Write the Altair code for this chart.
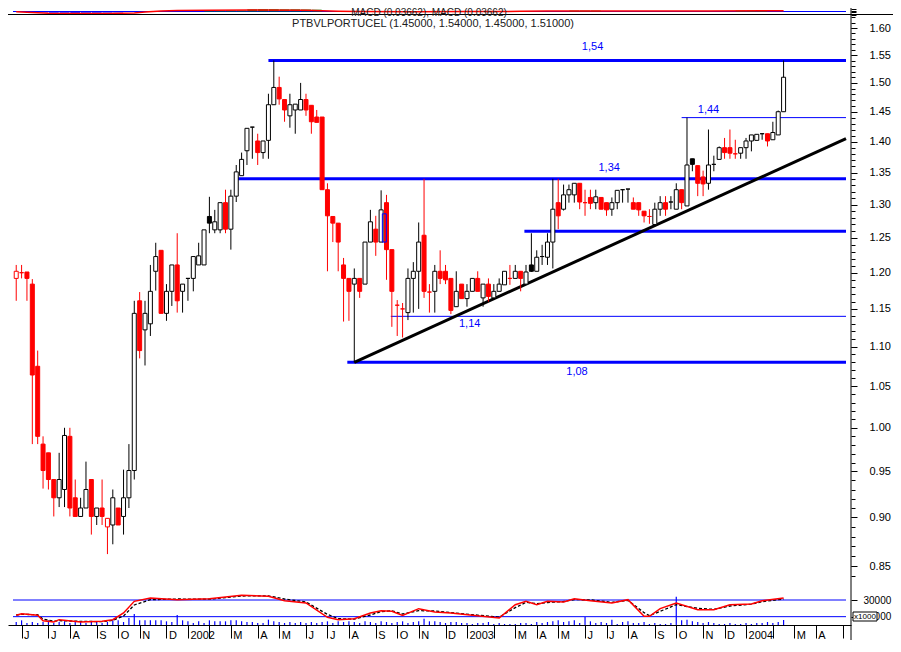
import math
import altair as alt
import pandas as pd

# ---------------- data (weekly candles, week ending Friday) ----------------
FIRST_WEEK = "2001-05-25"
PREV_CLOSE = 1.21  # close of the week before the first candle

opens = [
    1.192, 1.200, 1.201, 1.184, 1.075, 0.981, 0.971, 0.941, 0.921, 0.930, 0.990, 0.921,
    0.901, 0.910, 0.941, 0.901, 0.910, 0.890, 0.892, 0.910, 0.901, 0.921, 0.951, 1.161,
    1.122, 1.130, 1.202, 1.232, 1.144, 1.174, 1.211, 1.174, 1.192, 1.192, 1.211, 1.211,
    1.282, 1.262, 1.262, 1.303, 1.263, 1.313, 1.345, 1.385, 1.424, 1.401, 1.382, 1.402,
    1.462, 1.492, 1.471, 1.443, 1.453, 1.453, 1.471, 1.461, 1.441, 1.441, 1.323, 1.282,
    1.272, 1.211, 1.192, 1.184, 1.192, 1.184, 1.244, 1.263, 1.244, 1.303, 1.233, 1.155,
    1.150, 1.145, 1.192, 1.202, 1.254, 1.173, 1.174, 1.202, 1.202, 1.192, 1.153, 1.184,
    1.164, 1.174, 1.192, 1.165, 1.184, 1.165, 1.174, 1.183, 1.192, 1.192, 1.202, 1.184,
    1.211, 1.202, 1.223, 1.222, 1.244, 1.303, 1.293, 1.315, 1.315, 1.333, 1.303, 1.311,
    1.303, 1.311, 1.303, 1.293, 1.303, 1.323, 1.324, 1.303, 1.303, 1.290, 1.282, 1.270,
    1.293, 1.303, 1.304, 1.293, 1.323, 1.298, 1.372, 1.361, 1.343, 1.333, 1.363, 1.371,
    1.390, 1.390, 1.380, 1.381, 1.390, 1.401, 1.402, 1.413, 1.413, 1.403, 1.411, 1.450,
]
highs = [
    1.211, 1.211, 1.201, 1.191, 1.095, 0.990, 0.971, 0.941, 0.971, 1.000, 1.000, 0.941,
    0.921, 0.961, 0.941, 0.910, 0.941, 0.899, 0.930, 0.910, 0.952, 0.981, 1.161, 1.173,
    1.161, 1.211, 1.243, 1.232, 1.184, 1.211, 1.257, 1.184, 1.192, 1.223, 1.243, 1.262,
    1.312, 1.292, 1.303, 1.323, 1.323, 1.362, 1.382, 1.422, 1.424, 1.413, 1.401, 1.481,
    1.540, 1.511, 1.471, 1.481, 1.463, 1.500, 1.481, 1.461, 1.453, 1.441, 1.333, 1.282,
    1.272, 1.221, 1.192, 1.206, 1.192, 1.244, 1.292, 1.283, 1.322, 1.315, 1.233, 1.162,
    1.158, 1.206, 1.215, 1.273, 1.340, 1.184, 1.211, 1.232, 1.211, 1.192, 1.202, 1.184,
    1.184, 1.192, 1.202, 1.184, 1.192, 1.184, 1.192, 1.202, 1.211, 1.211, 1.202, 1.211,
    1.257, 1.232, 1.240, 1.257, 1.340, 1.340, 1.331, 1.331, 1.333, 1.333, 1.323, 1.323,
    1.323, 1.311, 1.303, 1.311, 1.322, 1.323, 1.324, 1.311, 1.303, 1.290, 1.293, 1.303,
    1.313, 1.313, 1.313, 1.333, 1.323, 1.440, 1.372, 1.361, 1.353, 1.420, 1.377, 1.392,
    1.406, 1.420, 1.403, 1.390, 1.406, 1.411, 1.412, 1.413, 1.413, 1.433, 1.452, 1.540,
]
lows = [
    1.161, 1.192, 1.161, 0.981, 0.981, 0.931, 0.930, 0.901, 0.911, 0.911, 0.901, 0.901,
    0.901, 0.910, 0.882, 0.892, 0.892, 0.862, 0.872, 0.892, 0.882, 0.910, 0.941, 1.085,
    1.076, 1.114, 1.175, 1.144, 1.134, 1.154, 1.145, 1.145, 1.161, 1.174, 1.211, 1.211,
    1.257, 1.257, 1.257, 1.257, 1.233, 1.304, 1.345, 1.362, 1.372, 1.362, 1.372, 1.372,
    1.462, 1.462, 1.433, 1.423, 1.413, 1.453, 1.443, 1.413, 1.432, 1.323, 1.202, 1.244,
    1.202, 1.133, 1.134, 1.080, 1.165, 1.184, 1.244, 1.224, 1.244, 1.190, 1.126, 1.114,
    1.112, 1.135, 1.145, 1.150, 1.165, 1.145, 1.145, 1.184, 1.184, 1.143, 1.153, 1.164,
    1.153, 1.174, 1.174, 1.153, 1.160, 1.162, 1.174, 1.183, 1.183, 1.192, 1.174, 1.184,
    1.201, 1.202, 1.211, 1.211, 1.206, 1.263, 1.291, 1.303, 1.303, 1.293, 1.283, 1.293,
    1.293, 1.293, 1.283, 1.283, 1.293, 1.303, 1.303, 1.293, 1.283, 1.273, 1.271, 1.267,
    1.283, 1.283, 1.293, 1.293, 1.293, 1.298, 1.352, 1.313, 1.313, 1.323, 1.352, 1.371,
    1.372, 1.372, 1.372, 1.372, 1.372, 1.384, 1.402, 1.403, 1.392, 1.403, 1.411, 1.450,
]
closes = [
    1.202, 1.200, 1.192, 1.064, 0.990, 0.951, 0.941, 0.921, 0.941, 0.991, 0.910, 0.901,
    0.910, 0.930, 0.901, 0.910, 0.901, 0.899, 0.921, 0.892, 0.921, 0.951, 1.144, 1.095,
    1.144, 1.174, 1.223, 1.144, 1.174, 1.211, 1.161, 1.184, 1.192, 1.223, 1.224, 1.262,
    1.272, 1.274, 1.303, 1.263, 1.313, 1.351, 1.371, 1.422, 1.424, 1.382, 1.401, 1.462,
    1.492, 1.472, 1.453, 1.462, 1.463, 1.471, 1.453, 1.433, 1.432, 1.323, 1.283, 1.272,
    1.244, 1.192, 1.174, 1.192, 1.174, 1.244, 1.274, 1.244, 1.292, 1.233, 1.174, 1.155,
    1.150, 1.192, 1.202, 1.244, 1.174, 1.173, 1.202, 1.192, 1.190, 1.148, 1.174, 1.164,
    1.174, 1.192, 1.174, 1.184, 1.167, 1.174, 1.184, 1.202, 1.192, 1.202, 1.192, 1.201,
    1.202, 1.222, 1.223, 1.244, 1.293, 1.283, 1.315, 1.323, 1.333, 1.304, 1.303, 1.302,
    1.312, 1.293, 1.292, 1.303, 1.322, 1.323, 1.324, 1.293, 1.292, 1.283, 1.282, 1.293,
    1.303, 1.293, 1.304, 1.323, 1.303, 1.362, 1.363, 1.333, 1.332, 1.362, 1.363, 1.390,
    1.382, 1.381, 1.380, 1.390, 1.401, 1.411, 1.412, 1.413, 1.401, 1.415, 1.450, 1.510,
]
# volume, thousands of shares
volume_k = [
    3.6, 5.6, 2.4, 3.6, 2.4, 3.6, 5.6, 2.4, 3.6, 4.4, 2.4, 4.4,
    3.6, 2.4, 3.6, 4.4, 2.4, 3.6, 5.6, 5.6, 3.6, 8.4, 13.2, 5.6,
    5.6, 5.6, 5.6, 5.6, 4.4, 3.6, 12.0, 5.6, 4.4, 2.4, 4.4, 2.4,
    5.6, 4.4, 4.4, 4.4, 5.6, 5.6, 4.4, 3.6, 3.6, 2.4, 2.4, 6.4,
    4.4, 3.6, 2.4, 3.6, 2.4, 3.6, 2.4, 3.6, 2.4, 3.6, 4.4, 2.4,
    4.4, 3.6, 4.4, 3.6, 2.4, 4.4, 3.6, 2.4, 4.4, 3.6, 2.4, 3.6,
    4.4, 2.4, 3.6, 4.4, 7.6, 4.4, 4.4, 3.6, 2.4, 3.6, 3.6, 2.4,
    2.4, 1.2, 2.4, 2.4, 3.6, 1.2, 2.4, 1.2, 1.2, 1.2, 2.4, 2.4,
    1.2, 3.6, 2.4, 3.6, 4.4, 5.6, 3.6, 4.4, 5.6, 2.4, 9.6, 4.4,
    2.4, 3.6, 2.4, 6.4, 1.2, 3.6, 4.4, 2.4, 2.4, 3.6, 1.2, 2.4,
    1.2, 1.2, 2.4, 34.0, 5.6, 6.4, 4.4, 3.6, 2.4, 3.6, 2.4, 1.2,
    1.2, 2.4, 1.2, 1.2, 2.4, 1.2, 2.4, 2.4, 3.6, 2.4, 3.6, 6.0,
]

# lower panel oscillator (thousands), read at these week numbers
osc_weeks = [1, 2, 5, 6, 8, 9, 13, 17, 19, 21, 23, 26, 31, 37, 43, 48, 51, 55, 59, 61, 64,
             67, 69, 71, 73, 76, 79, 82, 86, 91, 94, 96, 98, 100, 103, 105, 108, 112, 115,
             118, 119, 121, 124, 128, 131, 134, 138, 140, 144]
osc_red = [11.6, 13.6, 11.6, 5.2, 3.6, 6.4, 3.6, 4.4, 6.4, 14.4, 28.4, 32.4, 30.4, 31.6,
           35.6, 34.4, 29.2, 26.4, 9.2, 6.4, 7.6, 14.4, 17.2, 16.4, 11.6, 19.6, 15.6, 14.4,
           11.6, 8.4, 24.4, 28.4, 24.4, 28.4, 27.6, 31.6, 29.2, 26.4, 30.4, 10.4, 10.4, 19.6,
           26.4, 18.4, 18.4, 24.4, 25.2, 29.2, 32.4]
osc_black = [12.0, 12.8, 12.4, 7.0, 4.6, 5.2, 4.4, 4.0, 5.6, 10.8, 24.0, 30.4, 31.2, 31.0,
             34.8, 35.0, 31.2, 27.6, 12.8, 7.6, 7.0, 12.0, 16.0, 17.0, 13.2, 17.2, 16.8, 15.0,
             12.4, 9.4, 20.8, 27.2, 25.6, 27.0, 28.2, 30.4, 30.2, 27.2, 29.6, 14.8, 11.2, 16.4,
             24.4, 20.0, 18.8, 22.8, 25.0, 28.0, 31.2]

# MACD strip (normalised)
macd_weeks = [1, 4, 7, 12, 18, 23, 25, 28, 31, 37, 45, 55, 61, 65, 75, 85, 95, 100, 110, 120, 130, 144]
macd_vals = [-0.1, -0.3, -0.6, -0.7, -0.65, -0.5, -0.2, 0.2, 0.35, 0.45, 0.5, 0.45, 0.1, 0.0,
             -0.05, 0.0, 0.05, 0.2, 0.2, 0.15, 0.2, 0.25]
hist_weeks = [6, 8, 10, 12, 14, 16, 18, 20, 37, 39, 41, 43, 45, 47, 49, 51, 53, 55, 57,
              105, 107, 109, 136, 138, 140]
hist_vals = [-0.3, -0.4, -0.4, -0.45, -0.4, -0.4, -0.35, -0.3, 0.3, 0.3, 0.35, 0.35, 0.7,
             0.75, 0.75, 0.7, 0.7, 0.65, 0.6, 0.3, 0.3, 0.3, 0.3, 0.3, 0.3]

# drawn support / resistance levels
level_values = [1.54, 1.44, 1.34, 1.26, 1.14, 1.08]
level_start_week = [48, 125, 41.8, 95.7, 70.8, 62.7]
level_thick = [True, False, True, True, False, True]
label_texts = ["1,54", "1,44", "1,34", "1,14", "1,08"]
label_levels = [1.54, 1.44, 1.34, 1.14, 1.08]
label_weeks = [108.4, 130, 111.5, 85.5, 105.5]
trend_start = (64, 1.08)
trend_end_price = 1.405
highlight = (69.6, 1.244, 1.286)  # blue outlined box

panel_levels_k = [30, 10]
TITLE_MACD = "MACD (0.03662), MACD (0.03662)"
TITLE_MAIN = "PTBVLPORTUCEL (1.45000, 1.54000, 1.45000, 1.51000)"

# ---------------- layout ----------------
FONT = "Liberation Sans"
W, H = 843, 617
PAD_R = 42
WEEK = 7 * 86400000
t0 = int(pd.Timestamp(FIRST_WEEK).value // 1_000_000)


def wk(n):
    return t0 + (n - 1) * WEEK


x_start, x_end = wk(0.4), wk(155.63)
N = len(closes)


def py(p):
    return 20 + 850.6 * math.log(1.6 / p)


P_LO, P_HI = 0.83, 1.63
pscale = alt.Scale(type="log", domain=[P_LO, P_HI], range=[py(P_LO), py(P_HI)], nice=False)
vscale = alt.Scale(domain=[0, 40], range=[H, H - 40 / 1.2], nice=False, zero=False)
mscale = alt.Scale(domain=[-1, 1], range=[6.5, 0.5], nice=False, zero=False)
xscale = alt.Scale(type="utc", domain=[x_start, x_end], nice=False)

# month ticks at the first weekly bar of each month
all_weeks = pd.date_range(FIRST_WEEK, periods=160, freq="7D")
tick_ms = []
for i in range(1, len(all_weeks)):
    if all_weeks[i].month != all_weeks[i - 1].month:
        v = int(all_weeks[i].value // 1_000_000)
        if v < x_end:
            tick_ms.append(v)
cut = int(pd.Timestamp("2004-05-01").value // 1_000_000)
label_expr = (
    "utcmonth(datum.value) == 0 ? utcFormat(datum.value, '%Y') : "
    f"((utcmonth(datum.value) == 1 || datum.value > {cut}) ? '' : "
    "substring(utcFormat(datum.value, '%b'), 0, 1))"
)
xaxis = alt.Axis(values=tick_ms, labelExpr=label_expr, tickSize=13, labelPadding=-9,
                 labelAlign="left", labelOffset=2, labelBaseline="top", domainColor="black",
                 tickColor="black", labelColor="black", labelFont=FONT, labelFontSize=11,
                 grid=False, title=None, labelFlush=False, labelOverlap=False, labelBound=False)


def X(f):
    return alt.X(f + ":T", scale=xscale, axis=xaxis)


MAJOR = [round(0.85 + 0.05 * i, 2) for i in range(16)]
MINOR = [round(0.84 + 0.01 * i, 2) for i in range(79)]
price_axis = alt.Axis(orient="right", values=MAJOR, format=".2f", tickSize=6, labelPadding=12,
                      domain=False, grid=False, title=None, labelFont=FONT, labelFontSize=11,
                      labelColor="black", tickColor="black", labelFlush=False,
                      labelOverlap=False, labelBound=False)
minor_axis = alt.Axis(orient="right", values=MINOR, labels=False, tickSize=4, domain=False,
                      grid=False, title=None, tickColor="black")
vol_axis = alt.Axis(orient="right", values=panel_levels_k,
                    labelExpr="datum.value == 30 ? '30000' : '10000'", tickSize=6,
                    labelPadding=6, domain=False, grid=False, title=None, labelFont=FONT,
                    labelFontSize=10, labelColor="black", tickColor="black",
                    labelFlush=False, labelOverlap=False, labelBound=False)
macd_axis = alt.Axis(orient="right", values=[-1, -0.33, 0.33, 1], labels=False, tickSize=5,
                     domain=False, grid=False, title=None, tickColor="black")

# ---------------- frames ----------------
prev = [PREV_CLOSE] + closes[:-1]
colors = ["#ff0000" if c < p - 1e-9 else "#000000" for c, p in zip(closes, prev)]
fills = [col if c < o else "#ffffff" for col, c, o in zip(colors, closes, opens)]
candles = pd.DataFrame({
    "t": [wk(i + 1) for i in range(N)], "open": opens, "high": highs, "low": lows,
    "close": closes, "color": colors, "fill": fills, "vol": volume_k, "zero": 0.0,
})
levels = pd.DataFrame({
    "level": level_values, "start": [wk(s) for s in level_start_week],
    "end": x_end, "w": [3 if t else 1 for t in level_thick],
})
trend = pd.DataFrame({"x1": [wk(trend_start[0])], "x2": [x_end],
                      "y1": [trend_start[1]], "y2": [trend_end_price]})
hl = pd.DataFrame({"t": [wk(highlight[0])], "lo": [highlight[1]], "hi": [highlight[2]]})
osc = pd.DataFrame({"t": [wk(w) for w in osc_weeks], "red": osc_red, "black": osc_black})
macd = pd.DataFrame({"t": [wk(w) for w in macd_weeks], "v": macd_vals})
hist = pd.DataFrame({"t": [wk(w) for w in hist_weeks], "v": hist_vals, "zero": 0.0,
                     "c": ["#008000" if v > 0 else "#0000ff" for v in hist_vals]})
zero_line = pd.DataFrame({"start": [x_start], "end": [x_end], "v": [0.0]})
panel_lines = pd.DataFrame({"start": x_start, "end": x_end, "v": panel_levels_k})
one = pd.DataFrame({"a": [0]})

layers = []
# MACD strip
layers.append(alt.Chart(zero_line).mark_rule(color="#0000ff", strokeWidth=1).encode(
    x=X("start"), x2="end", y=alt.Y("v:Q", scale=mscale, axis=macd_axis)))
layers.append(alt.Chart(hist).mark_bar(size=10).encode(
    x=X("t"), y=alt.Y("v:Q", scale=mscale, axis=None), y2="zero:Q",
    color=alt.Color("c:N", scale=None)))
layers.append(alt.Chart(macd).mark_line(color="#ff0000", strokeWidth=1.5).encode(
    x=X("t"), y=alt.Y("v:Q", scale=mscale, axis=None)))
layers.append(alt.Chart(one).mark_rule(color="black", strokeWidth=1).encode(
    x=alt.value(0), x2=alt.value(W + PAD_R), y=alt.value(6.5)))

# price panel
layers.append(alt.Chart(levels).mark_rule(color="#0000ff").encode(
    x=X("start"), x2="end", y=alt.Y("level:Q", scale=pscale, axis=None),
    strokeWidth=alt.StrokeWidth("w:Q", scale=None)))
layers.append(alt.Chart(trend).mark_rule(color="black", strokeWidth=3).encode(
    x=X("x1"), x2="x2", y=alt.Y("y1:Q", scale=pscale, axis=None), y2="y2:Q"))
layers.append(alt.Chart(candles).mark_rule(strokeWidth=1).encode(
    x=X("t"), y=alt.Y("low:Q", scale=pscale, axis=price_axis), y2="high:Q",
    color=alt.Color("color:N", scale=None)))
layers.append(alt.Chart(candles).mark_bar(size=4, strokeWidth=1).encode(
    x=X("t"), y=alt.Y("open:Q", scale=pscale, axis=minor_axis), y2="close:Q",
    fill=alt.Fill("fill:N", scale=None), stroke=alt.Stroke("color:N", scale=None)))
layers.append(alt.Chart(hl).mark_bar(size=4, strokeWidth=1, fillOpacity=0, stroke="#0000ff").encode(
    x=X("t"), y=alt.Y("lo:Q", scale=pscale, axis=None), y2="hi:Q"))

LABEL_DY = [-14, -8, -11, 8, 10]
for txt, lev, w, dy in zip(label_texts, label_levels, label_weeks, LABEL_DY):
    d = pd.DataFrame({"t": [wk(w)], "y": [lev], "s": [txt]})
    layers.append(alt.Chart(d).mark_text(color="#0000ff", font=FONT, fontSize=11, dy=dy,
                                         baseline="middle", align="center").encode(
        x=X("t"), y=alt.Y("y:Q", scale=pscale, axis=None), text="s:N"))

layers.append(alt.Chart(pd.DataFrame({"s": [TITLE_MACD]})).mark_text(
    font=FONT, fontSize=10, color="#202020", baseline="middle", align="center").encode(
    x=alt.value(421), y=alt.value(4.5), text="s:N"))
layers.append(alt.Chart(pd.DataFrame({"s": [TITLE_MAIN]})).mark_text(
    font=FONT, fontSize=11, color="#202020", baseline="middle", align="center").encode(
    x=alt.value(425), y=alt.value(15.5), text="s:N"))

# lower panel
layers.append(alt.Chart(panel_lines).mark_rule(color="#0000ff", strokeWidth=1).encode(
    x=X("start"), x2="end", y=alt.Y("v:Q", scale=vscale, axis=None)))
layers.append(alt.Chart(candles).mark_rule(color="#0000ff", strokeWidth=1.2).encode(
    x=X("t"), y=alt.Y("vol:Q", scale=vscale, axis=vol_axis), y2="zero:Q"))
layers.append(alt.Chart(osc).mark_line(color="black", strokeWidth=1.3, strokeDash=[3, 2]).encode(
    x=X("t"), y=alt.Y("black:Q", scale=vscale, axis=None)))
layers.append(alt.Chart(osc).mark_line(color="#ff0000", strokeWidth=1.5).encode(
    x=X("t"), y=alt.Y("red:Q", scale=vscale, axis=None)))

# frame: right border and the x1000 box
layers.append(alt.Chart(one).mark_rule(color="black", strokeWidth=1).encode(
    x=alt.value(W), y=alt.value(0), y2=alt.value(H + 15)))
layers.append(alt.Chart(one).mark_rect(fill="white", stroke="black", strokeWidth=1).encode(
    x=alt.value(W + 2), x2=alt.value(W + 26), y=alt.value(H - 13), y2=alt.value(H - 4)))
layers.append(alt.Chart(pd.DataFrame({"s": ["x1000"]})).mark_text(
    font=FONT, fontSize=8, color="black", align="center", baseline="middle").encode(
    x=alt.value(W + 14), y=alt.value(H - 8.5), text="s:N"))

chart = alt.layer(*layers).resolve_scale(y="independent").properties(
    width=W, height=H, autosize=alt.AutoSizeParams(type="none"),
    padding={"left": 0, "top": 0, "right": PAD_R, "bottom": 15}, background="white",
).configure_view(stroke="transparent")

chart.save("out.html", embed_options={"renderer": "svg", "actions": False})
